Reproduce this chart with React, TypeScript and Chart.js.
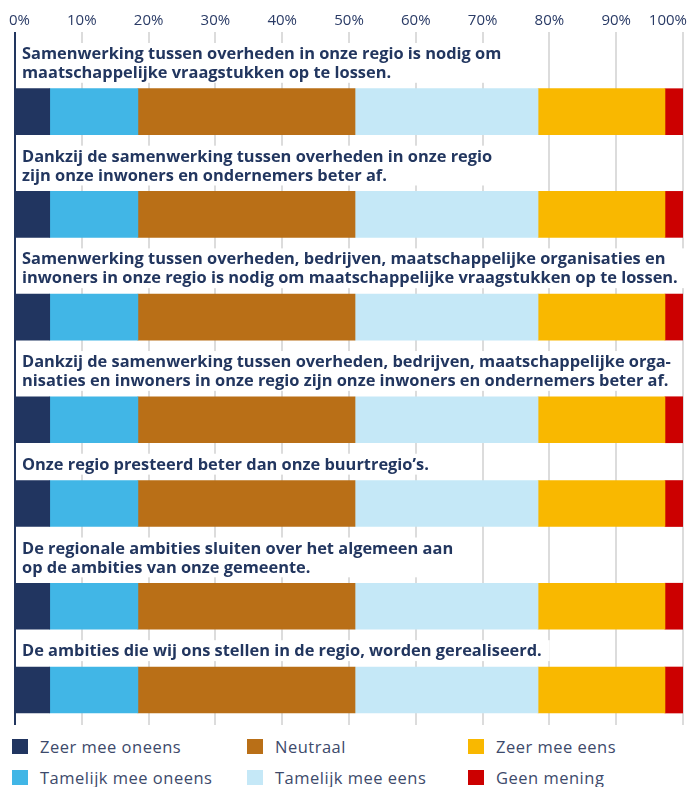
import { useEffect, useRef } from "react";
import { Chart, registerables } from "chart.js";
Chart.register(...registerables);

// ---- data ----
const categories: string[][] = [
  ["Samenwerking tussen overheden in onze regio is nodig om", "maatschappelijke vraagstukken op te lossen."],
  ["Dankzij de samenwerking tussen overheden in onze regio", "zijn onze inwoners en ondernemers beter af."],
  ["Samenwerking tussen overheden, bedrijven, maatschappelijke organisaties en", "inwoners in onze regio is nodig om maatschappelijke vraagstukken op te lossen."],
  ["Dankzij de samenwerking tussen overheden, bedrijven, maatschappelijke orga-", "nisaties en inwoners in onze regio zijn onze inwoners en ondernemers beter af."],
  ["Onze regio presteerd beter dan onze buurtregio\u2019s."],
  ["De regionale ambities sluiten over het algemeen aan", "op de ambities van onze gemeente."],
  ["De ambities die wij ons stellen in de regio, worden gerealiseerd."],
];

const zeerMeeOneens = [5.2, 5.2, 5.2, 5.2, 5.2, 5.2, 5.2];
const tamelijkMeeOneens = [13.2, 13.2, 13.2, 13.2, 13.2, 13.2, 13.2];
const neutraal = [32.5, 32.5, 32.5, 32.5, 32.5, 32.5, 32.5];
const tamelijkMeeEens = [27.4, 27.4, 27.4, 27.4, 27.4, 27.4, 27.4];
const zeerMeeEens = [19.0, 19.0, 19.0, 19.0, 19.0, 19.0, 19.0];
const geenMening = [2.7, 2.7, 2.7, 2.7, 2.7, 2.7, 2.7];

const seriesNames = ["Zeer mee oneens", "Tamelijk mee oneens", "Neutraal", "Tamelijk mee eens", "Zeer mee eens", "Geen mening"];
const seriesValues = [zeerMeeOneens, tamelijkMeeOneens, neutraal, tamelijkMeeEens, zeerMeeEens, geenMening];
const seriesColors = ["#213560", "#41b6e6", "#b96f17", "#c5e8f7", "#f9b800", "#cc0000"];

const xTicks = [0, 10, 20, 30, 40, 50, 60, 70, 80, 90, 100];

// ---- layout (in y-scale units == px) ----
const NAVY = "#22365f";
const PAD = 12;
const LINE_H = 18.9;
const GAP = 6.9;
const BAR = 46;

const rows: { textTop: number; center: number; lines: string[] }[] = [];
let cursor = 0;
categories.forEach((lines) => {
  const textTop = cursor + PAD;
  const barTop = textTop + lines.length * LINE_H + GAP;
  rows.push({ textTop, center: barTop + BAR / 2, lines });
  cursor = barTop + BAR;
});
const TOTAL = cursor + PAD;

const LABEL_FONT = "bold 16.4px 'Open Sans'";
const TICK_FONT = "15px 'Open Sans'";

const labelPlugin = {
  id: "rowLabels",
  afterDatasetsDraw(chart: any) {
    const { ctx, chartArea, scales } = chart;
    const y = scales.y;
    ctx.save();
    ctx.font = LABEL_FONT;
    rows.forEach((r) => {
      const top = y.getPixelForValue(r.textTop);
      const bottom = y.getPixelForValue(r.textTop + r.lines.length * LINE_H);
      const w = Math.max(...r.lines.map((l) => ctx.measureText(l).width));
      ctx.fillStyle = "#ffffff";
      ctx.fillRect(chartArea.left + 1, top - 1, w + 14, bottom - top + 2);
      ctx.fillStyle = NAVY;
      ctx.textBaseline = "middle";
      ctx.textAlign = "left";
      const lh = (bottom - top) / r.lines.length;
      r.lines.forEach((l, k) => {
        ctx.fillText(l, chartArea.left + 7, top + lh * (k + 0.5) + 1);
      });
    });
    ctx.restore();
  },
  afterDraw(chart: any) {
    const { ctx, scales, width } = chart;
    const x = scales.x;
    ctx.save();
    ctx.font = TICK_FONT;
    ctx.fillStyle = "#2a3b66";
    ctx.textBaseline = "middle";
    ctx.textAlign = "center";
    xTicks.forEach((t) => {
      const label = t + "%";
      const w = ctx.measureText(label).width;
      let cx = x.getPixelForValue(t);
      cx = Math.max(cx, 9 + w / 2);
      cx = Math.min(cx, width - 2 - w / 2);
      ctx.fillText(label, cx, 21);
    });
    ctx.restore();
  },
};

export default function App() {
  const ref = useRef<HTMLCanvasElement | null>(null);
  useEffect(() => {
    if (!ref.current) return;
    const chart = new Chart(ref.current, {
      type: "bar",
      data: {
        datasets: seriesNames.map((name, i) => ({
          label: name,
          data: seriesValues[i].map((v, j) => ({ x: v, y: rows[j].center })),
          backgroundColor: seriesColors[i],
          borderWidth: 0,
          barThickness: BAR,
        })),
      },
      options: {
        indexAxis: "y",
        animation: false,
        responsive: false,
        devicePixelRatio: 1,
        layout: { padding: { top: 32, left: 15, right: 6, bottom: 6 } },
        plugins: { legend: { display: false }, tooltip: { enabled: false } },
        scales: {
          x: {
            type: "linear",
            position: "top",
            min: 0,
            max: 100,
            stacked: true,
            ticks: { display: false, stepSize: 10 },
            border: { display: false },
            grid: {
              drawTicks: false,
              lineWidth: 2,
              color: (c: any) => (c.tick && c.tick.value === 0 ? NAVY : "#dcdcdc"),
            },
          },
          y: {
            type: "linear",
            reverse: true,
            min: 0,
            max: TOTAL,
            offset: false,
            stacked: true,
            display: false,
          },
        },
      } as any,
      plugins: [labelPlugin],
    });
    return () => chart.destroy();
  }, []);

  return (
    <div style={{ position: "absolute", left: 0, top: 0, width: 689, height: 787, overflow: "hidden", background: "#fff" }}>
      <canvas ref={ref} width={689} height={731} style={{ display: "block" }} />
      <div
        style={{
          position: "absolute",
          left: 12,
          top: 739,
          display: "grid",
          gridTemplateColumns: "235px 221px 200px",
          gridTemplateRows: "31px 31px",
          gridAutoFlow: "column",
          fontFamily: "'Open Sans'",
          fontSize: 16.5,
          letterSpacing: "0.5px",
          color: "#3d4a6b",
        }}
      >
        {[0, 1, 2, 3, 4, 5].map((i) => (
          <div key={i} style={{ display: "flex", alignItems: "flex-start", height: 31 }}>
            <span style={{ display: "inline-block", width: 16, height: 15, background: seriesColors[i], marginRight: 12, flex: "none" }} />
            <span style={{ lineHeight: "17px", marginTop: -1, whiteSpace: "nowrap" }}>{seriesNames[i]}</span>
          </div>
        ))}
      </div>
    </div>
  );
}
